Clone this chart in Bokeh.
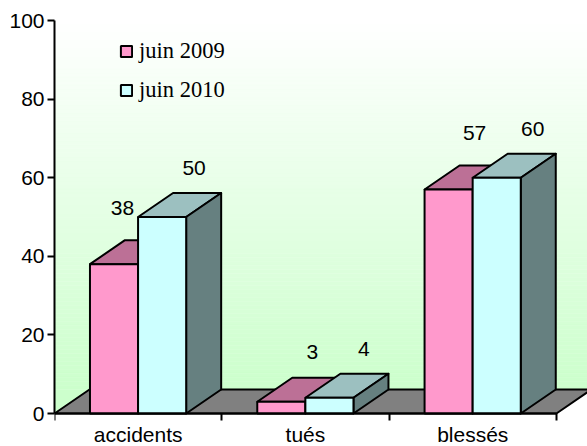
from bokeh.plotting import figure
from bokeh.models import FixedTicker, ColumnDataSource, Range1d, Legend, LegendItem
from bokeh.core.properties import value
from bokeh.embed import file_html
from bokeh.resources import INLINE
import numpy as np

categories = ["accidents", "tués", "blessés"]
series_names = ["juin 2009", "juin 2010"]
juin_2009 = [38, 3, 57]
juin_2010 = [50, 4, 60]
y_ticks = [0, 20, 40, 60, 80, 100]

PINK, PINK_TOP, PINK_SIDE = "#ff99cc", "#bc7096", "#7f4c66"
CYAN, CYAN_TOP, CYAN_SIDE = "#ccffff", "#9cc0c0", "#668080"
FLOOR = "#808080"
FONT = "Liberation Sans"
SERIF = "Liberation Serif"

W, H = 587, 446
L, T, B = 54, 20, 33
fw, fh = W - L, H - T
px_x = 167.3          # pixels per category
px_y = (H - T - B) / 100.0     # pixels per unit
dx = 35 / px_x        # 3D depth in data units
dy = 24 / px_y
bar_w = 0.2875
bar_off = 0.212

p = figure(width=W, height=H, frame_height=fh, output_backend="svg", toolbar_location=None,
           x_range=Range1d(0, fw / px_x), y_range=Range1d(-B / px_y, 100),
           min_border_left=L, min_border_right=0, min_border_top=T, min_border_bottom=0,
           background_fill_color="white", border_fill_color="white", outline_line_color=None)
p.grid.visible = False

# gradient walls
n = 92
edges = np.linspace(100, dy, n + 1)
mix = np.linspace(0, 1, n)
cols = ["#%02xff%02x" % (round(255 - 51 * m), round(255 - 51 * m)) for m in mix]
p.quad(left=0, right=fw / px_x, top=edges[:-1], bottom=edges[1:],
       fill_color=cols, line_color=cols, line_width=0.5)
p.quad(left=[0], right=[dx], top=[dy], bottom=[0], fill_color="#ccffcc", line_color=None)

# floor
n_cat = len(categories)
p.patch([0, n_cat, n_cat + dx, dx], [0, 0, dy, dy], fill_color=FLOOR, line_color="black", line_width=2)


def draw(vals, offset, front, top, side):
    lefts = [i + bar_off + offset * bar_w for i in range(n_cat)]
    rights = [l + bar_w for l in lefts]
    p.patches([[l, r, r + dx, l + dx] for l, r in zip(lefts, rights)],
              [[v, v, v + dy, v + dy] for v in vals],
              fill_color=top, line_color="black", line_width=2, line_join="round")
    p.patches([[r, r + dx, r + dx, r] for r in rights],
              [[0, dy, v + dy, v] for v in vals],
              fill_color=side, line_color="black", line_width=2, line_join="round")
    return p.quad(left=lefts, right=rights, bottom=0, top=vals,
                  fill_color=front, line_color="black", line_width=2), lefts, rights


r09, l09, rr09 = draw(juin_2009, 0, PINK, PINK_TOP, PINK_SIDE)
r10, l10, rr10 = draw(juin_2010, 1, CYAN, CYAN_TOP, CYAN_SIDE)

# data labels
lab_x = [(a + b) / 2 for a, b in zip(l09, rr09)] + [(a + b) / 2 for a, b in zip(l10, rr10)]
lab_y = juin_2009 + juin_2010
lab_dx = [8.5, 31, 26, 32, 34.5, 36]
lab_dy = [-55.7, -50, -56, -49, -49, -48.5]
src = ColumnDataSource(dict(x=lab_x, y=lab_y, t=[str(v) for v in lab_y], xo=lab_dx, yo=lab_dy))
p.text(x="x", y="y", text="t", x_offset="xo", y_offset="yo", source=src,
       text_font=value(FONT), text_font_size="21px", text_color="black",
       text_align="center", text_baseline="middle")

cat_src = ColumnDataSource(dict(x=[i + 0.5 for i in range(n_cat)], y=[0] * n_cat, t=categories))
p.text(x="x", y="y", text="t", y_offset=21, source=cat_src,
       text_font=value(FONT), text_font_size="21px", text_color="black",
       text_align="center", text_baseline="middle")

# axes
xa = p.xaxis[0]
xa.fixed_location = 0
xa.ticker = FixedTicker(ticks=[], minor_ticks=list(range(n_cat + 1)))
xa.minor_tick_in = 0
xa.minor_tick_out = 7
xa.minor_tick_line_color = "black"
xa.minor_tick_line_width = 2
xa.major_tick_out = 0
xa.major_label_standoff = 0
xa.axis_line_color = "black"
xa.axis_line_width = 2
xa.bounds = (0, n_cat)

ya = p.yaxis[0]
ya.ticker = FixedTicker(ticks=y_ticks, minor_ticks=[])
ya.bounds = (0, 100)
ya.major_tick_in = 0
ya.major_tick_out = 7
ya.major_tick_line_width = 2
ya.major_tick_line_color = "black"
ya.axis_line_color = "black"
ya.axis_line_width = 2
ya.major_label_text_font = FONT
ya.major_label_text_font_size = "21px"
ya.major_label_text_color = "black"
ya.major_label_standoff = 3

legend = Legend(items=[LegendItem(label=series_names[0], renderers=[r09]),
                       LegendItem(label=series_names[1], renderers=[r10])],
                location=(65, 343), orientation="vertical",
                glyph_width=14, glyph_height=14, label_standoff=6, spacing=13,
                padding=0, margin=0, background_fill_alpha=0, border_line_color=None,
                label_text_font=SERIF, label_text_font_size="22.5px", label_text_color="black",
                label_height=24)
p.add_layout(legend, "center")

open("out.html", "w").write(file_html(p, INLINE))
